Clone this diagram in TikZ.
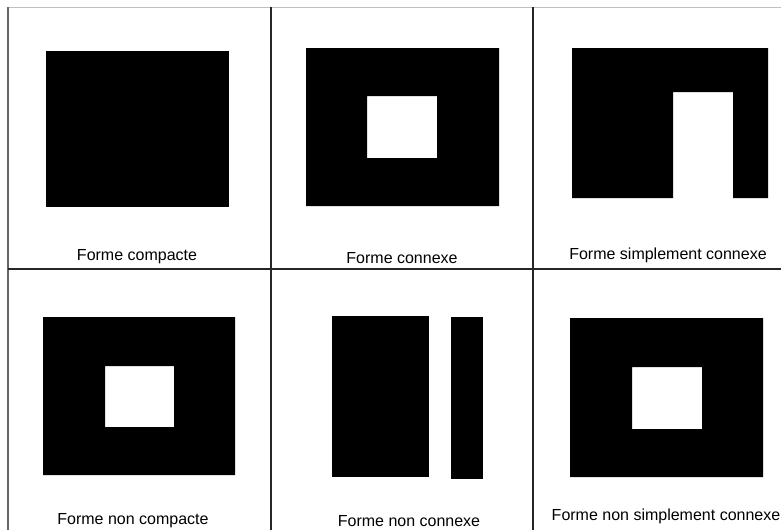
\documentclass[tikz,border=0pt]{standalone}
\usepackage{fontspec}
\setmainfont{Liberation Sans}

\begin{document}
\begin{tikzpicture}[x=1pt,y=-1pt,
    forme/.style={fill=black,even odd rule},
    legende/.style={inner sep=0pt,font=\fontsize{16}{19}\selectfont},
    grille/.style={draw=black!85,line width=1.8pt}]
        \useasboundingbox (0,0) rectangle (781,530);

        % cadre
        \draw[black!25,line width=0.8pt] (8,7) -- (781,7);
        \draw[black!60,line width=1.2pt] (8,7) -- (8,530);

        % grille
        \draw[grille] (271,7) -- (271,530);
        \draw[grille] (533,7) -- (533,530);
        \draw[grille] (8,269) -- (781,269);

        % formes du haut
        \fill[forme] (46,51) rectangle (229,207);
        \fill[forme] (306,48) rectangle (499,206) (367,96) rectangle (437,158);
        \fill[forme] (572,48) -- (768,48) -- (768,198) -- (733,198) -- (733,92)
                     -- (673,92) -- (673,198) -- (572,198) -- cycle;

        % formes du bas
        \fill[forme] (43,317) rectangle (235,475) (105,366) rectangle (174,427);
        \fill[forme] (332,316) rectangle (429,477);
        \fill[forme] (451,317) rectangle (483,479);
        \fill[forme] (570,318) rectangle (763,477) (632,367) rectangle (702,429);

        % légendes
        \node[legende] (compacte) at (137,257) {Forme compacte};
        \node[legende] (connexe) at (402,258) {Forme connexe};
        \node[legende] (simple) at (668,255) {Forme simplement connexe};
        \node[legende] (noncompacte) at (133,521) {Forme non compacte};
        \node[legende] (nonconnexe) at (409,521) {Forme non connexe};
        \node[legende] (nonsimple) at (666,516) {Forme non simplement connexe};
\end{tikzpicture}
\end{document}
